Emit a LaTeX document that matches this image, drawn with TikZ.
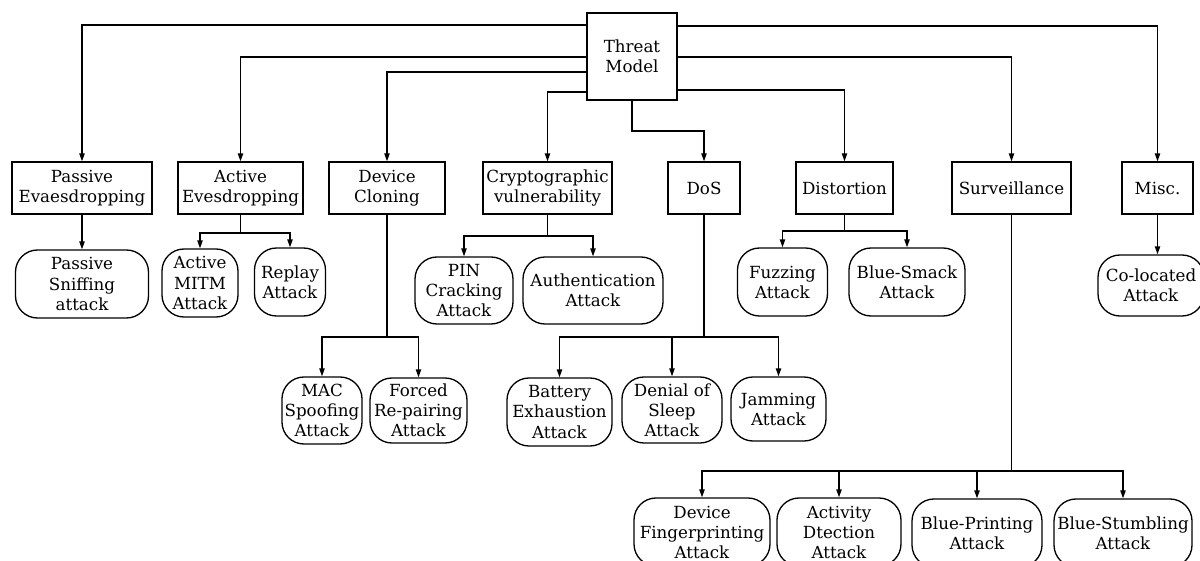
\documentclass[tikz,border=0pt]{standalone}
\usepackage{fontspec}
\setmainfont{DejaVu Serif}
\usetikzlibrary{arrows.meta}

\begin{document}
\begin{tikzpicture}[x = 0.02cm, y = -0.02cm, line width = 0.75pt,
        wh/.style 2 args = {minimum width = #1*0.02cm, minimum height = #2*0.02cm},
        catbox/.style = {draw = black, rectangle, align = center, inner sep = 1.5pt,
            font = \fontsize{9.5}{11.4}\selectfont},
        atkbox/.style = {catbox, rounded corners = 0.44cm},
        arr/.style = {-{Triangle[length = 4.5pt, width = 3pt]}}]
    \useasboundingbox (0, 0) rectangle (1200, 561);

    % root
    \node[catbox, wh = {90}{87}] (tm) at (632, 56.5) {Threat \\ Model};

    % categories
    \node[catbox, wh = {140}{52}] (pe) at (82, 188) {Passive \\ Evaesdropping};
    \node[catbox, wh = {125}{52}] (ae) at (240.5, 188) {Active \\ Evesdropping};
    \node[catbox, wh = {116}{52}] (dc) at (387, 188) {Device \\ Cloning};
    \node[catbox, wh = {129}{52}] (cv) at (547.5, 188) {Cryptographic \\ vulnerability};
    \node[catbox, wh = {72}{52}] (dos) at (704, 188) {DoS};
    \node[catbox, wh = {97}{52}] (dis) at (844.5, 188) {Distortion};
    \node[catbox, wh = {119}{52}] (sur) at (1011.5, 188) {Surveillance};
    \node[catbox, wh = {71}{52}] (misc) at (1157.5, 188) {Misc.};

    % attacks
    \node[atkbox, wh = {133}{68}] (ps) at (82, 284) {Passive \\ Sniffing \\ attack};
    \node[atkbox, wh = {76}{68}] (mitm) at (200, 283) {Active \\ MITM \\ Attack};
    \node[atkbox, wh = {71}{68}] (rep) at (290, 282) {Replay \\ Attack};
    \node[atkbox, wh = {98}{67}] (pin) at (464, 290.5) {PIN \\ Cracking \\ Attack};
    \node[atkbox, wh = {140}{67}] (auth) at (593, 290.5) {Authentication \\ Attack};
    \node[atkbox, wh = {90}{68}] (fuz) at (782.5, 282) {Fuzzing \\ Attack};
    \node[atkbox, wh = {116}{68}] (bsm) at (907, 282) {Blue-Smack \\ Attack};
    \node[atkbox, wh = {106}{61}] (col) at (1151, 285.5) {Co-located \\ Attack};

    \node[atkbox, wh = {78}{67}] (mac) at (322, 410.5) {MAC \\ Spoofing \\ Attack};
    \node[atkbox, wh = {97}{65}] (frp) at (418.5, 410.5) {Forced \\ Re-pairing \\ Attack};
    \node[atkbox, wh = {105}{68}] (bat) at (559.5, 412) {Battery \\ Exhaustion \\ Attack};
    \node[atkbox, wh = {100}{66}] (dsl) at (672, 410) {Denial of \\ Sleep \\ Attack};
    \node[atkbox, wh = {95}{64}] (jam) at (778.5, 409) {Jamming \\ Attack};

    \node[atkbox, wh = {136}{68}] (dfp) at (702, 532) {Device \\ Fingerprinting \\ Attack};
    \node[atkbox, wh = {124}{68}] (act) at (839, 532) {Activity \\ Dtection \\ Attack};
    \node[atkbox, wh = {130}{68}] (bpr) at (977, 533) {Blue-Printing \\ Attack};
    \node[atkbox, wh = {138}{68}] (bst) at (1123, 533) {Blue-Stumbling \\ Attack};

    % root to categories
    \draw[arr] (tm.west |- 0, 25) -| (pe);
    \draw[arr] (tm.west |- 0, 57) -| (ae);
    \draw[arr] (tm.west |- 0, 72) -| (dc);
    \draw[arr] (tm.west |- 0, 92) -| (cv);
    \draw[arr] (tm.south) -- (tm.south |- 0, 131) -| (dos);
    \draw[arr] (tm.east |- 0, 90) -| (dis);
    \draw[arr] (tm.east |- 0, 57) -| (sur);
    \draw[arr] (tm.east |- 0, 26) -| (misc);

    % categories to attacks
    \draw[arr] (pe) -- (ps);
    \draw (ae) -- (ae.south |- 0, 233) coordinate (aej);
    \draw[arr] (aej) -| (mitm);
    \draw[arr] (aej) -| (rep);
    \draw (cv) -- (cv.south |- 0, 236) coordinate (cvj);
    \draw[arr] (cvj) -| (pin);
    \draw[arr] (cvj) -| (auth);
    \draw (dis) -- (dis.south |- 0, 231) coordinate (disj);
    \draw[arr] (disj) -| (fuz);
    \draw[arr] (disj) -| (bsm);
    \draw[arr] (misc) -- (misc |- col.north);

    \draw (dc) -- (dc.south |- 0, 337) coordinate (dcj);
    \draw[arr] (dcj) -| (mac);
    \draw[arr] (dcj) -| (frp);
    \draw (dos) -- (dos.south |- 0, 337) coordinate (dosj);
    \draw[arr] (dosj) -| (bat);
    \draw[arr] (dosj) -| (dsl);
    \draw[arr] (dosj) -| (jam);

    \draw (sur) -- (sur.south |- 0, 471) coordinate (surj);
    \draw[arr] (surj) -| (dfp);
    \draw[arr] (surj) -| (act);
    \draw[arr] (surj) -| (bpr);
    \draw[arr] (surj) -| (bst);
\end{tikzpicture}
\end{document}
